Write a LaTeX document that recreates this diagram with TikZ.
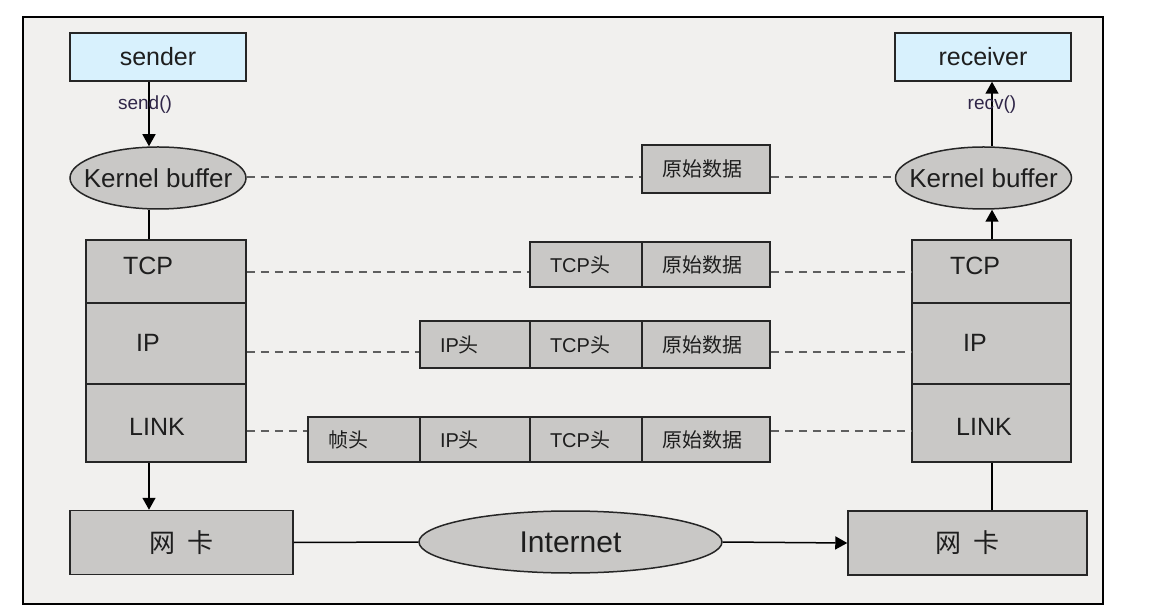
\documentclass[tikz,border=0pt]{standalone}
\usepackage{fontspec}
\setmainfont{Liberation Sans}
\newfontfamily\cjkfont{Noto Sans CJK SC}
\usetikzlibrary{calc, shapes.geometric, arrows.meta}
\definecolor{boxgray}{RGB}{201,200,198}
\definecolor{appblue}{RGB}{216,241,253}
\definecolor{framebg}{RGB}{241,240,238}
\definecolor{inkdark}{RGB}{30,30,30}
\definecolor{fnink}{RGB}{48,38,72}
\definecolor{dashgray}{RGB}{95,95,95}

\begin{document}
\begin{tikzpicture}[x=0.5pt,y=-0.5pt,line width=0.75pt,
	box/.style={draw=black!85, fill=boxgray, inner sep=0pt, text=inkdark},
	appbox/.style={box, fill=appblue, minimum width=88pt, minimum height=24pt, font=\fontsize{12.5}{14}\selectfont},
	buf/.style={box, ellipse, inner xsep=-6pt, minimum width=88pt, minimum height=31pt, font=\fontsize{13}{15}\selectfont},
	layer/.style={box, minimum width=80pt},
	layertext/.style={inner sep=0pt, text=inkdark, font=\fontsize{12.5}{14}\selectfont},
	pkt/.style={box, inner xsep=10pt, inner ysep=0pt, align=left, font=\fontsize{10}{12}\selectfont},
	nic/.style={box, minimum height=32pt, font=\fontsize{13}{15}\selectfont\cjkfont},
	fnlabel/.style={inner sep=0pt, text=fnink, font=\fontsize{9.5}{11}\selectfont},
	arr/.style={-{Triangle[length=6pt,width=6.5pt]}},
	dashline/.style={draw=dashgray, line width=0.55pt, dash pattern=on 4pt off 3pt}]
	\newcommand{\zh}[1]{{\cjkfont #1}}
	\useasboundingbox (0,0) rectangle (1159,613);
	%Outer frame
	\draw[fill=framebg, line width=0.8pt] (23,17) rectangle (1103,604);
	%Columns of the vertical connectors
	\coordinate (lcol) at (149,0);
	\coordinate (rcol) at (992,0);
	%Rows of the dashed lines
	\coordinate (r1) at (0,177);
	\coordinate (r2) at (0,272);
	\coordinate (r3) at (0,352);
	\coordinate (r4) at (0,431);
	%Applications
	\node[appbox] (sender) at (158,57) {sender};
	\node[appbox] (receiver) at (983,57) {receiver};
	%Kernel buffers
	\node[buf] (kbL) at (158,178) {Kernel buffer};
	\node[buf] (kbR) at (983.5,178) {Kernel buffer};
	%Protocol stack sender side
	\node[layer, minimum height=31.5pt] (tcpL) at (166,271.5) {};
	\node[layer, minimum height=40.5pt] (ipL) at (166,343.5) {};
	\node[layer, minimum height=39pt] (linkL) at (166,423) {};
	\node[layertext] (tcpLt) at (148,266) {TCP};
	\node[layertext] (ipLt) at (148,343) {IP};
	\node[layertext] (linkLt) at (157,426.5) {LINK};
	%Protocol stack receiver side
	\node[layer, minimum height=31.5pt, minimum width=79.5pt] (tcpR) at (991.5,271.5) {};
	\node[layer, minimum height=40.5pt, minimum width=79.5pt] (ipR) at (991.5,343.5) {};
	\node[layer, minimum height=39pt, minimum width=79.5pt] (linkR) at (991.5,423) {};
	\node[layertext] (tcpRt) at (975,266) {TCP};
	\node[layertext] (ipRt) at (975,343) {IP};
	\node[layertext] (linkRt) at (984,426.5) {LINK};
	%Network cards and internet
	\node[nic, minimum width=111.5pt] (nicL) at (181.5,542.5) {网\hspace{6pt}卡};
	\node[nic, minimum width=119.5pt] (nicR) at (967.5,543) {网\hspace{6pt}卡};
	\node[box, ellipse, minimum width=151.5pt, minimum height=31pt, font=\fontsize{15}{17}\selectfont] (inet) at (570.5,542) {Internet};
	%Packets
	%row1
	\node[pkt, text width=44pt, minimum height=24pt] (raw1) at (706,169) {\zh{原始数据}};
	%row2
	\node[pkt, text width=36pt, minimum height=22.5pt] (tcph2) at (586,264.5) {TCP\zh{头}};
	\node[pkt, text width=44pt, minimum height=22.5pt] (raw2) at (706,264.5) {\zh{原始数据}};
	%row3
	\node[pkt, text width=35pt, minimum height=23.5pt] (iph3) at (475,344.5) {IP\zh{头}};
	\node[pkt, text width=36pt, minimum height=23.5pt] (tcph3) at (586,344.5) {TCP\zh{头}};
	\node[pkt, text width=44pt, minimum height=23.5pt] (raw3) at (706,344.5) {\zh{原始数据}};
	%row4
	\node[pkt, text width=36pt, minimum height=22.5pt] (fh4) at (364,439.5) {\zh{帧头}};
	\node[pkt, text width=35pt, minimum height=22.5pt] (iph4) at (475,439.5) {IP\zh{头}};
	\node[pkt, text width=36pt, minimum height=22.5pt] (tcph4) at (586,439.5) {TCP\zh{头}};
	\node[pkt, text width=44pt, minimum height=22.5pt] (raw4) at (706,439.5) {\zh{原始数据}};
	%Vertical connectors sender side
	\draw[arr] (sender.south -| lcol) -- node[fnlabel, pos=0.35, xshift=-2pt] (sendlbl) {send()} (kbL.north -| lcol);
	\draw (kbL.south -| lcol) -- (tcpL.north -| lcol);
	\draw[arr] (linkL.south -| lcol) -- (nicL.north -| lcol);
	%Vertical connectors receiver side
	\draw[arr] (kbR.north -| rcol) -- node[fnlabel, pos=0.65] (recvlbl) {recv()} (receiver.south -| rcol);
	\draw[arr] (tcpR.north -| rcol) -- (kbR.south -| rcol);
	\draw (nicR.north -| rcol) -- (linkR.south -| rcol);
	%Internet path
	\draw (nicL.east) -- (inet.west);
	\draw[arr] (inet.east) -- (nicR.west);
	%Dashed lines
	\draw[dashline] (kbL.east |- r1) -- (raw1.west |- r1);
	\draw[dashline] (raw1.east |- r1) -- (kbR.west |- r1);
	\draw[dashline] (tcpL.east |- r2) -- (tcph2.west |- r2);
	\draw[dashline] (raw2.east |- r2) -- (tcpR.west |- r2);
	\draw[dashline] (ipL.east |- r3) -- (iph3.west |- r3);
	\draw[dashline] (raw3.east |- r3) -- (ipR.west |- r3);
	\draw[dashline] (linkL.east |- r4) -- (fh4.west |- r4);
	\draw[dashline] (raw4.east |- r4) -- (linkR.west |- r4);
\end{tikzpicture}
\end{document}
